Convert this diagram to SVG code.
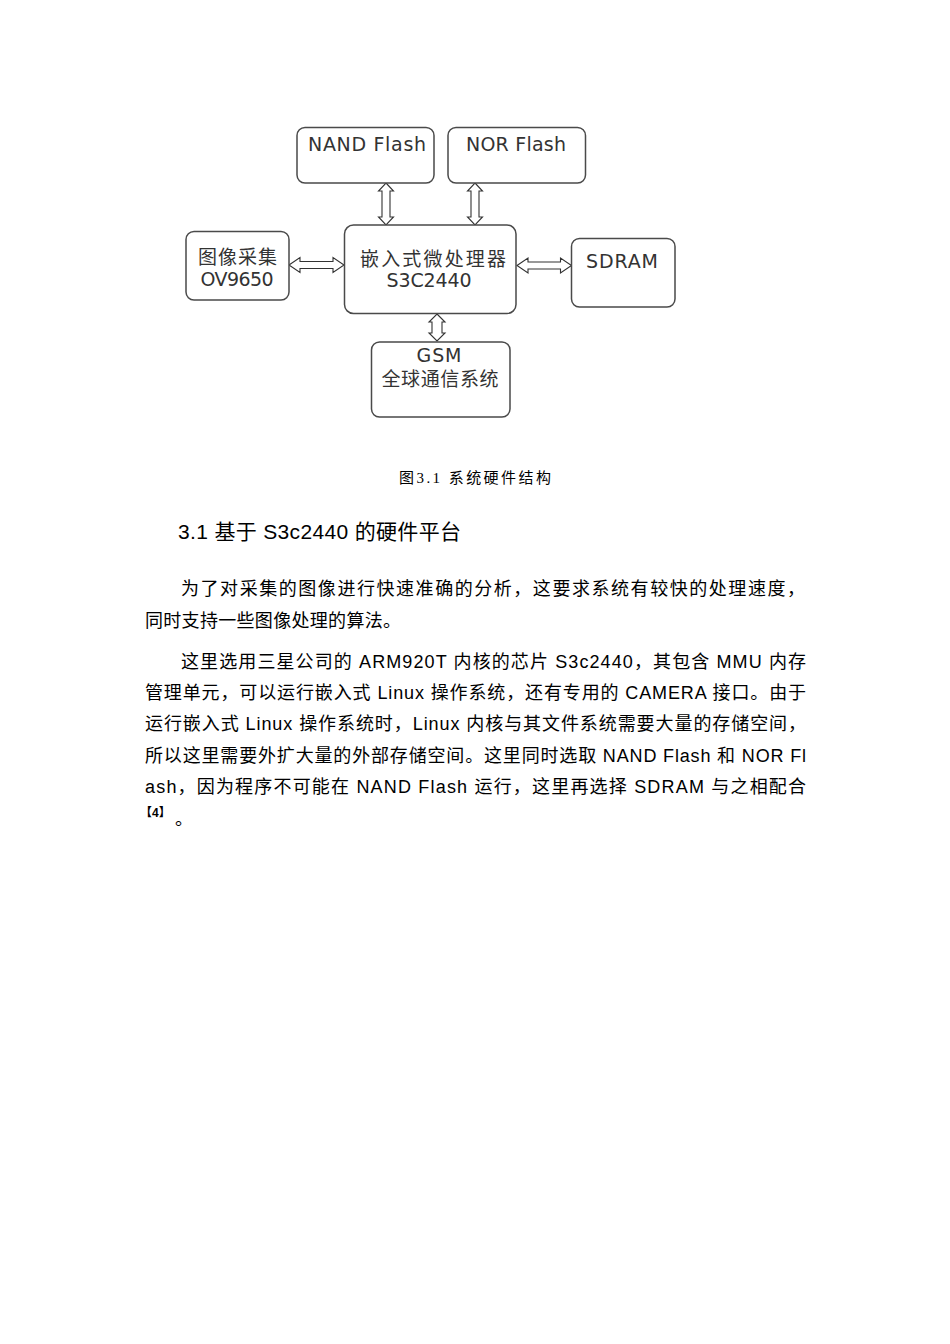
<svg xmlns="http://www.w3.org/2000/svg" width="950" height="1344" viewBox="0 0 950 1344">
<style>
.box{fill:#fff;stroke:#4a4a4a;stroke-width:1.5}
.bt{font-family:"DejaVu Sans","Noto Sans CJK SC",sans-serif;font-size:19px;fill:#333;text-anchor:middle}
.cj{font-family:"Noto Sans CJK SC",sans-serif;font-size:19px;fill:#333;text-anchor:middle}
.arr{fill:#fff;stroke:#333;stroke-width:1.1;stroke-linejoin:miter}
.body{font-family:"Liberation Sans","Noto Sans CJK SC",sans-serif;font-size:18px;fill:#000}
.h{font-size:21px}
.ref{font-size:12px;font-weight:bold}
.cap{font-family:"Liberation Serif","Noto Sans CJK SC",serif;font-size:15px;fill:#000}
</style>
<rect width="950" height="1344" fill="#fff"/>
<g id="connectors">
<polygon class="arr" points="386,183 393.5,191 390,191 390,217 393.5,217 386,225 378.5,217 382,217 382,191 378.5,191"/>
<polygon class="arr" points="475,183 482.5,191 479,191 479,217 482.5,217 475,225 467.5,217 471,217 471,191 467.5,191"/>
<polygon class="arr" points="437,314 445,322 442,322 442,333 445,333 437,341 429,333 432,333 432,322 429,322"/>
<polygon class="arr" points="289,265 300,257.5 300,261.5 333,261.5 333,257.5 344,265 333,272.5 333,268.5 300,268.5 300,272.5"/>
<polygon class="arr" points="517,265.5 528,258 528,262 560.5,262 560.5,258 571.5,265.5 560.5,273 560.5,269 528,269 528,273"/>
</g>
<g id="nand">
<rect class="box" x="297" y="127.5" width="137" height="55.5" rx="8"/>
<text class="bt" x="367" y="151" textLength="118">NAND Flash</text>
</g>
<g id="nor">
<rect class="box" x="448" y="127.5" width="137.5" height="55.5" rx="8"/>
<text class="bt" x="516" y="151" textLength="100">NOR Flash</text>
</g>
<g id="camera">
<rect class="box" x="186" y="231.5" width="103" height="68.5" rx="8"/>
<text class="cj" x="237.5" y="264" textLength="79">图像采集</text>
<text class="bt" x="237" y="286" textLength="73">OV9650</text>
</g>
<g id="cpu">
<rect class="box" x="344.5" y="225" width="171.5" height="88.5" rx="9"/>
<text class="cj" x="433" y="266" textLength="146">嵌入式微处理器</text>
<text class="bt" x="429" y="287" textLength="85">S3C2440</text>
</g>
<g id="sdram">
<rect class="box" x="571.5" y="238.5" width="103.5" height="68.5" rx="8"/>
<text class="bt" x="622" y="268" textLength="72">SDRAM</text>
</g>
<g id="gsm">
<rect class="box" x="371.5" y="342" width="138.5" height="75" rx="8"/>
<text class="bt" x="439" y="362" textLength="45">GSM</text>
<text class="cj" x="440" y="386" textLength="117">全球通信系统</text>
</g>
<g id="text">
<text class="cap" x="399" y="483" textLength="152">图3.1 系统硬件结构</text>
<text class="body h" x="178" y="539" textLength="283">3.1 基于 S3c2440 的硬件平台</text>
<text class="body" x="181" y="595" textLength="624">为了对采集的图像进行快速准确的分析，这要求系统有较快的处理速度，</text>
<text class="body" x="145" y="627" textLength="256">同时支持一些图像处理的算法。</text>
<text class="body" x="181" y="668" textLength="625">这里选用三星公司的 ARM920T 内核的芯片 S3c2440，其包含 MMU 内存</text>
<text class="body" x="145" y="699" textLength="661">管理单元，可以运行嵌入式 Linux 操作系统，还有专用的 CAMERA 接口。由于</text>
<text class="body" x="145" y="730" textLength="661">运行嵌入式 Linux 操作系统时，Linux 内核与其文件系统需要大量的存储空间，</text>
<text class="body" x="145" y="762" textLength="661">所以这里需要外扩大量的外部存储空间。这里同时选取 NAND Flash 和 NOR Fl</text>
<text class="body" x="145" y="793" textLength="661">ash，因为程序不可能在 NAND Flash 运行，这里再选择 SDRAM 与之相配合</text>
<text class="body ref" x="140" y="817">【4】</text>
<text class="body" x="175" y="825">。</text>
</g>
</svg>
